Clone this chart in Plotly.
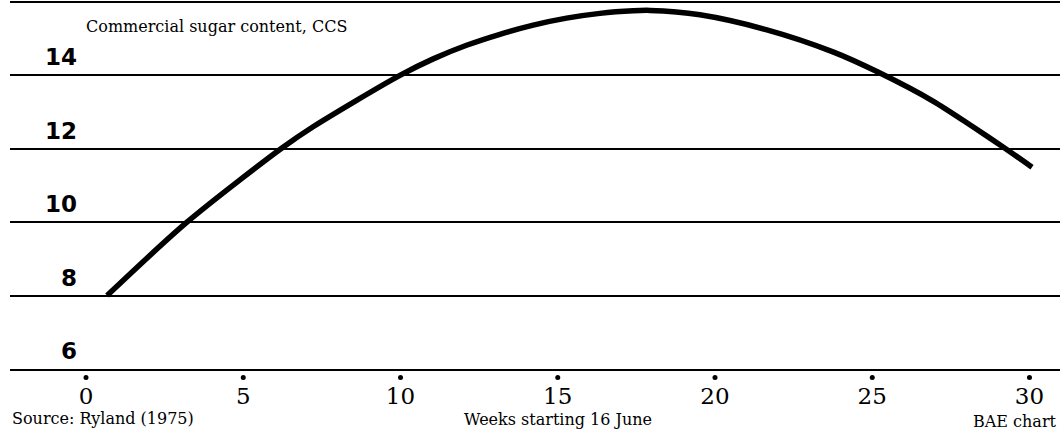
import plotly.graph_objects as go

# Data (week, commercial sugar content)
weeks = [0.67, 3.21, 6.23, 7.22, 9.98, 11.04, 12.1, 13.16, 14.22, 15.28, 16.34,
         17.4, 17.93, 19.52, 21.65, 23.75, 25.18, 26.93, 28.2, 29.16, 30.08]
ccs = [8.0, 10.0, 12.02, 12.6, 14.0, 14.45, 14.82, 15.12, 15.37, 15.56, 15.69,
       15.76, 15.77, 15.65, 15.24, 14.64, 14.09, 13.3, 12.6, 12.05, 11.5]

x_ticks = [0, 5, 10, 15, 20, 25, 30]
x_tick_labels = ["0", "5", "10", "15", "20", "25", "30"]
y_grid = [6, 8, 10, 12, 14, 16]
y_labels = ["6", "8", "10", "12", "14"]
y_label_vals = [6, 8, 10, 12, 14]

title_text = "Commercial sugar content, CCS"
x_title = "Weeks starting 16 June"
source_text = "Source: Ryland (1975)"
credit_text = "BAE chart"

SERIF = "DejaVu Serif"
SANS = "DejaVu Sans"

fig = go.Figure()
fig.add_trace(go.Scatter(
    x=weeks, y=ccs, mode="lines",
    line=dict(color="black", width=5.5, shape="spline", smoothing=0.8),
    hoverinfo="skip", showlegend=False,
))

annotations = []
for v, t in zip(y_label_vals, y_labels):
    annotations.append(dict(
        x=0, xref="x", y=v, yref="y", text="<b>%s</b>" % t,
        xanchor="right", yanchor="bottom", xshift=-7, yshift=3,
        showarrow=False, font=dict(family=SANS, size=23, color="black"),
    ))

annotations.append(dict(
    x=0, xref="x", y=16, yref="y", text=title_text,
    xanchor="left", yanchor="middle", xshift=-2, yshift=-25,
    showarrow=False, font=dict(family=SERIF, size=16, color="black"),
))
annotations.append(dict(
    x=0, xref="paper", y=0, yref="paper", text=source_text,
    xanchor="left", yanchor="middle", yshift=-49,
    showarrow=False, font=dict(family=SERIF, size=16, color="black"),
))
annotations.append(dict(
    x=15, xref="x", y=0, yref="paper", text=x_title,
    xanchor="center", yanchor="middle", yshift=-50,
    showarrow=False, font=dict(family=SERIF, size=16, color="black"),
))
annotations.append(dict(
    x=1, xref="paper", y=0, yref="paper", text=credit_text,
    xanchor="right", yanchor="middle", xshift=-1, yshift=-52,
    showarrow=False, font=dict(family=SERIF, size=16, color="black"),
))

shapes = []
for t in x_ticks:
    shapes.append(dict(
        type="circle", xref="x", yref="paper", xsizemode="pixel",
        ysizemode="pixel", xanchor=t, yanchor=0,
        x0=-2.5, x1=2.5, y0=-11, y1=-6,
        fillcolor="black", line=dict(width=0),
    ))

fig.update_layout(
    width=1060, height=432,
    margin=dict(l=10, r=0, t=0, b=63),
    paper_bgcolor="white", plot_bgcolor="white",
    showlegend=False,
    annotations=annotations,
    shapes=shapes,
    xaxis=dict(
        range=[-2.417, 30.97], showgrid=False, zeroline=False,
        showline=True, linecolor="black", linewidth=2,
        tickmode="array", tickvals=x_ticks,
        ticktext=x_tick_labels, ticks="", ticklabelstandoff=5,
        tickfont=dict(family=SERIF, size=23, color="black"),
        fixedrange=True,
    ),
    yaxis=dict(
        range=[6, 16.054], showgrid=True, gridcolor="black", gridwidth=2,
        zeroline=False, showline=False, tickmode="array", tickvals=y_grid,
        showticklabels=False, ticks="", fixedrange=True,
    ),
)

fig.write_html("out.html", config={"displayModeBar": False},
               post_script="document.body.style.margin='0';")
